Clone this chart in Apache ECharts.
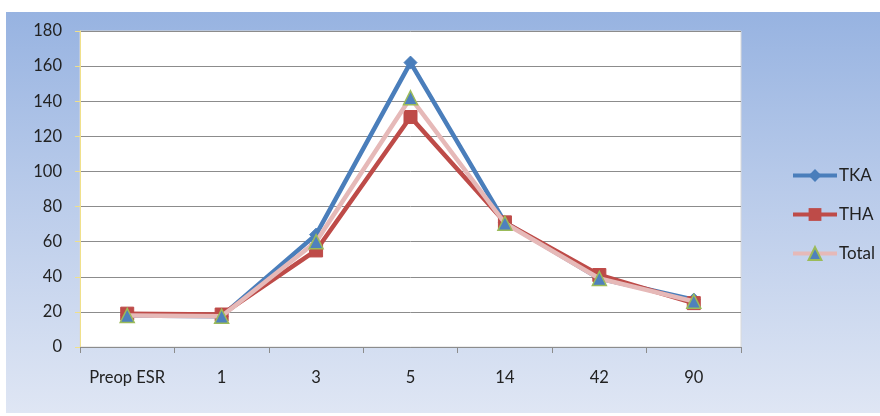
<!DOCTYPE html>
<html>
<head>
<meta charset="utf-8">
<script src="https://cdn.jsdelivr.net/npm/echarts@6/dist/echarts.min.js"></script>
<style>
html,body{margin:0;padding:0;background:#fff;}
#bg{position:absolute;left:6px;top:12px;width:874px;height:401px;background:linear-gradient(to bottom,#97b3e1 0%,#b9cbea 45%,#dfe6f4 100%);}
#chart{position:absolute;left:0;top:0;width:880px;height:416px;}
</style>
</head>
<body>
<div id="bg"></div>
<div id="chart"></div>
<script>
const categories = ['Preop ESR', '1', '3', '5', '14', '42', '90'];
const tka = [18, 17.5, 64, 162, 71, 39, 27];
const tha = [19, 18.5, 55, 131, 71, 41, 25];
const total = [18, 17.5, 60, 142, 70.5, 39, 26];
const yTicks = [0, 20, 40, 60, 80, 100, 120, 140, 160, 180];

const chart = echarts.init(document.getElementById('chart'));
const font = 'Lato, "Open Sans", sans-serif';
chart.setOption({
  animation: false,
  backgroundColor: 'transparent',
  textStyle: {fontFamily: font},
  grid: {left: 80, top: 31, width: 661, height: 316, show: true, backgroundColor: '#ffffff', borderColor: '#d9d9d9', borderWidth: 1},
  legend: {
    orient: 'vertical', left: 786, top: 162, itemGap: 22, itemWidth: 44, itemHeight: 16,
    lineStyle: {width: 4},
    textStyle: {fontSize: 17, color: '#222', fontFamily: font, padding: [0,0,0,-3]},
    data: [
      {name: 'TKA'},
      {name: 'THA'},
      {name: 'Total'}
    ]
  },
  xAxis: {
    type: 'category', data: categories, boundaryGap: true,
    axisLine: {lineStyle: {color: '#8c8c8c', width: 1}},
    axisTick: {show: true, interval: 0, alignWithLabel: false, length: 6, lineStyle: {color: '#8c8c8c'}},
    axisLabel: {interval: 0, color: '#222', fontSize: 16.5, margin: 22, fontFamily: font}
  },
  yAxis: {
    type: 'value', min: yTicks[0], max: yTicks[yTicks.length-1], interval: 20,
    axisLine: {show: true, lineStyle: {color: '#f0e08a', width: 1}},
    axisTick: {show: true, length: 5, lineStyle: {color: '#f0e08a'}},
    splitLine: {lineStyle: {color: '#8c8c8c', width: 1}},
    axisLabel: {color: '#222', fontSize: 16.5, margin: 18, fontFamily: font}
  },
  series: [
    {name: 'TKA', type: 'line', data: tka, symbol: 'diamond', symbolSize: 13,
      lineStyle: {color: '#4a7ebb', width: 4.5}, itemStyle: {color: '#4a7ebb', borderColor: '#4a7ebb'}, z: 2},
    {name: 'THA', type: 'line', data: tha, symbol: 'rect', symbolSize: 13,
      lineStyle: {color: '#be4b48', width: 4.5}, itemStyle: {color: '#be4b48', borderColor: '#be4b48'}, z: 3},
    {name: 'Total', type: 'line', data: total, symbol: 'triangle', symbolSize: 14,
      lineStyle: {color: '#e6b9b8', width: 4.5}, itemStyle: {color: '#4f81bd', borderColor: '#9bbb59', borderWidth: 1.5}, z: 4}
  ]
});
</script>
</body>
</html>
